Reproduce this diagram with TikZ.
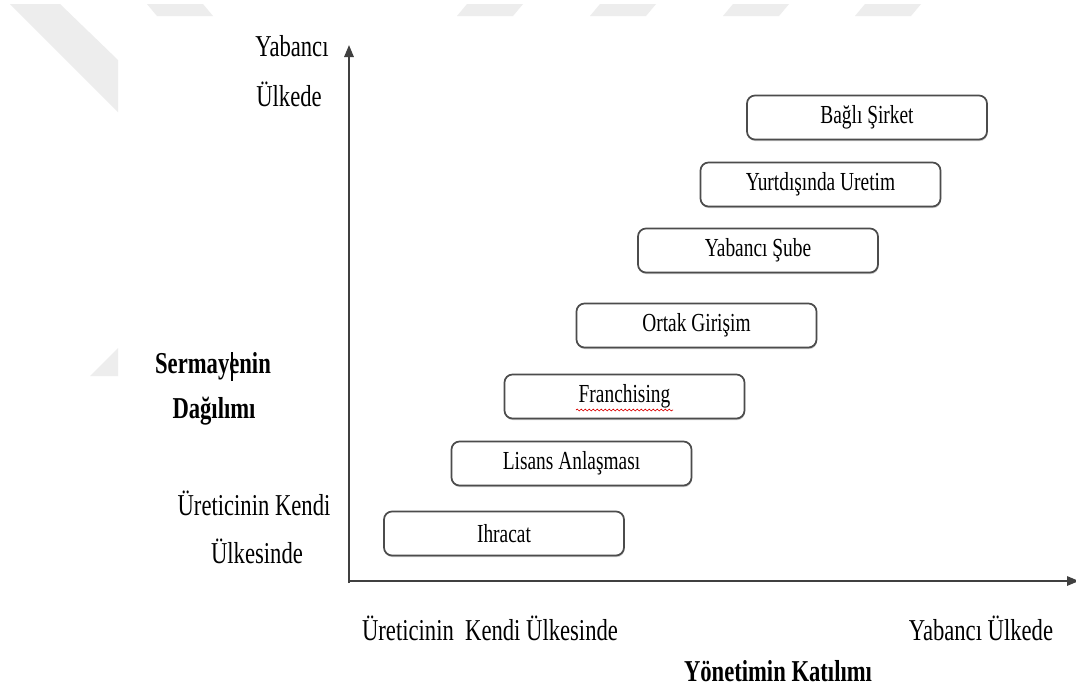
\documentclass[tikz,border=0pt]{standalone}
\usepackage{fontspec}
\usepackage{graphicx}
\setmainfont{Liberation Serif}
\usetikzlibrary{arrows.meta,shadows,decorations.pathmorphing}
% taller, narrow-looking lettering
\newcommand{\tallt}[1]{\scalebox{0.97}[1.3]{#1}}
\tikzset{
  mode/.style={draw=black!70, line width=1.3pt, rounded corners=6pt, fill=white,
    minimum width=180pt, minimum height=33pt, inner sep=0pt,
    font=\fontsize{15}{18}\selectfont,
    drop shadow={shadow xshift=0.4pt, shadow yshift=-1.2pt, opacity=0.35, fill=black!60}},
  lbl/.style={font=\fontsize{17.5}{21}\selectfont, inner sep=0pt},
  blbl/.style={font=\fontsize{17.5}{21}\selectfont\bfseries, inner sep=0pt},
  axis/.style={draw=black!75, line width=1.5pt,
    -{Triangle[width=7pt,length=9pt]}},
  logoshape/.style={fill=black!7, draw=none}
}
\begin{document}
\begin{tikzpicture}[x=0.75pt,y=-0.75pt]
\useasboundingbox[fill=white] (0,0) rectangle (1076,690);

% faint background logo shapes
\fill[logoshape] (10,4) -- (60,4) -- (118,60) -- (118,112) -- cycle;
\fill[logoshape] (90,376) -- (118,348) -- (118,376) -- cycle;
\fill[logoshape] (147,4) -- (203,4) -- (213,16) -- (157,16) -- cycle;
\foreach \sx in {467,600,733,865}
  \fill[logoshape] (\sx,4) -- ({\sx+56},4) -- ({\sx+46},16) -- ({\sx-10},16) -- cycle;

% axes
\coordinate (O) at (349,583);
\coordinate (ytop) at (349,45);
\coordinate (xend) at (1079,581);
\coordinate (Obase) at (349,581);
\draw[axis] (O) -- (ytop);
\draw[axis] (Obase) -- (xend);

% market entry modes
\node[mode] (bagli)   at (867,117.5)   {\tallt{Bağlı Şirket}};
\node[mode] (yurt)    at (820.5,184.5) {\tallt{Yurtdışında Uretim}};
\node[mode] (sube)    at (758,250.5)   {\tallt{Yabancı Şube}};
\node[mode] (ortak)   at (696.5,325.5) {\tallt{Ortak Girişim}};
\node[mode] (franch)  at (624.5,396.5) {\tallt{Franchising}};
\node[mode] (lisans)  at (571.5,463.5) {\tallt{Lisans Anlaşması}};
\node[mode] (ihracat) at (504,533.5)   {\tallt{Ihracat}};

% spell-check underline under Franchising
\coordinate (fu1) at (576,410);
\coordinate (fu2) at (673,410);
\draw[red!85!black, line width=0.5pt, decorate,
  decoration={snake, amplitude=0.7pt, segment length=3pt}] (fu1) -- (fu2);

% vertical axis labels
\node[lbl] (ya1) at (292,46) {\tallt{Yabancı}};
\node[lbl] (ya2) at (289,94) {\tallt{Ülkede}};
\node[blbl] (sd1) at (213,366) {\tallt{Sermayenin}};
\node[blbl] (sd2) at (214,411) {\tallt{Dağılımı}};
\node[lbl] (uk1) at (254,503) {\tallt{Üreticinin Kendi}};
\node[lbl] (uk2) at (257,551) {\tallt{Ülkesinde}};

% text cursor inside "Sermayenin"
\coordinate (cur1) at (232,352);
\coordinate (cur2) at (232,381);
\draw[line width=1.4pt] (cur1) -- (cur2);

% horizontal axis labels
\node[lbl] (hx1) at (490,628) {\tallt{Üreticinin\ \ Kendi Ülkesinde}};
\node[lbl] (hx2) at (981,628) {\tallt{Yabancı Ülkede}};
\node[blbl] (hx3) at (778,671) {\tallt{Yönetimin Katılımı}};
\end{tikzpicture}
\end{document}
